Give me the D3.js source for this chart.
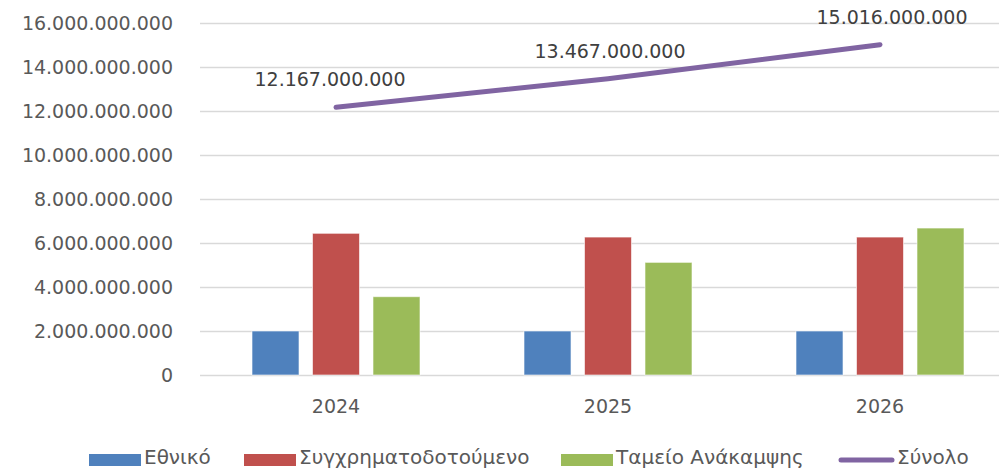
<!DOCTYPE html>
<html lang="el">
<head>
<meta charset="UTF-8">
<title>Προϋπολογισμός</title>
<style>
  body { margin: 0; background: #fff; }
  svg { display: block; font-family: "DejaVu Sans", Verdana, sans-serif; }
</style>
<script src="https://cdn.jsdelivr.net/npm/d3@7/dist/d3.min.js"></script>
</head>
<body>
<script>
// data
var years = ["2024", "2025", "2026"];
var series = ["Εθνικό", "Συγχρηματοδοτούμενο", "Ταμείο Ανάκαμψης"];
var ethniko = [2000000000, 2000000000, 2000000000];
var sygxr = [6440000000, 6270000000, 6270000000];
var tameio = [3560000000, 5120000000, 6680000000];
var synolo = [12167000000, 13467000000, 15016000000];
var yTicks = [0, 2e9, 4e9, 6e9, 8e9, 10e9, 12e9, 14e9, 16e9];
var lineName = "Σύνολο";

var colors = ["#4f81bd", "#c0504d", "#9bbb59"];
var lineColor = "#8064a2";

var W = 999, H = 470;
var plot = {left: 200, right: 1016, top: 23, bottom: 375};

var gr = d3.formatLocale({decimal: ",", thousands: ".", grouping: [3], currency: ["", "€"]});
var fmt = gr.format(",.0f");

var svg = d3.select("body").append("svg")
    .attr("width", W)
    .attr("height", H);

var x0 = d3.scaleBand().domain(years).range([plot.left, plot.right]);
var x1 = d3.scaleBand().domain(series).range([52, 220]).paddingInner(0.223);
var y = d3.scaleLinear().domain([0, 16e9]).range([plot.bottom, plot.top]);

// gridlines
svg.append("g")
    .selectAll("line")
    .data(yTicks)
    .join("line")
    .attr("x1", plot.left)
    .attr("x2", W)
    .attr("y1", d => Math.round(y(d)) + 0.5)
    .attr("y2", d => Math.round(y(d)) + 0.5)
    .attr("stroke", "#d9d9d9")
    .attr("stroke-width", 1.5);

// y axis labels
var yAxis = d3.axisLeft(y).tickValues(yTicks).tickFormat(fmt).tickSize(0).tickPadding(0);
var yg = svg.append("g")
    .attr("transform", "translate(173,0)")
    .call(yAxis);
yg.select(".domain").remove();
yg.selectAll("text")
    .attr("fill", "#595959")
    .style("font-size", "19px")
    .style("font-family", "'DejaVu Sans', Verdana, sans-serif");

// x axis labels
var xAxis = d3.axisBottom(x0).tickSize(0).tickPadding(0);
var xg = svg.append("g")
    .attr("transform", "translate(0," + (plot.bottom + 24) + ")")
    .call(xAxis);
xg.select(".domain").remove();
xg.selectAll("text")
    .attr("fill", "#595959")
    .style("font-size", "19px")
    .style("font-family", "'DejaVu Sans', Verdana, sans-serif");

// bars
var table = years.map((yr, i) => ({year: yr, values: [ethniko[i], sygxr[i], tameio[i]]}));
svg.append("g")
    .selectAll("g")
    .data(table)
    .join("g")
    .attr("transform", d => "translate(" + x0(d.year) + ",0)")
    .selectAll("rect")
    .data(d => d.values.map((v, j) => ({name: series[j], value: v, color: colors[j]})))
    .join("rect")
    .attr("x", d => x1(d.name))
    .attr("width", x1.bandwidth())
    .attr("y", d => y(d.value))
    .attr("height", d => y(0) - y(d.value))
    .attr("fill", d => d.color)
    .attr("stroke", "rgba(255,255,255,0.6)")
    .attr("stroke-width", 1);

// total line
var pts = years.map((yr, i) => [x0(yr) + x0.bandwidth() / 2, y(synolo[i])]);
svg.append("path")
    .attr("d", d3.line()(pts))
    .attr("fill", "none")
    .attr("stroke", lineColor)
    .attr("stroke-width", 5)
    .attr("stroke-linecap", "round");

var labelNudge = [-6, 2, 12];
svg.append("g")
    .selectAll("text")
    .data(synolo)
    .join("text")
    .attr("x", (d, i) => pts[i][0] + labelNudge[i])
    .attr("y", (d, i) => pts[i][1] - 21)
    .attr("text-anchor", "middle")
    .attr("fill", "#404040")
    .style("font-size", "19px")
    .text(d => fmt(d));

// legend
var legendX = [89, 244, 561, 838];
var lg = svg.append("g").attr("transform", "translate(0,460)");
series.forEach(function(s, i) {
    lg.append("rect")
        .attr("x", legendX[i])
        .attr("y", -6)
        .attr("width", 52)
        .attr("height", 12)
        .attr("fill", colors[i]);
    lg.append("text")
        .attr("x", legendX[i] + 55)
        .attr("y", 4)
        .attr("fill", "#595959")
        .style("font-size", "20px")
        .text(s);
});
lg.append("line")
    .attr("x1", legendX[3] + 3)
    .attr("x2", legendX[3] + 54)
    .attr("y1", 0)
    .attr("y2", 0)
    .attr("stroke", lineColor)
    .attr("stroke-width", 5)
    .attr("stroke-linecap", "round");
lg.append("text")
    .attr("x", legendX[3] + 59)
    .attr("y", 4)
    .attr("fill", "#595959")
    .style("font-size", "20px")
    .text(lineName);
</script>
</body>
</html>
